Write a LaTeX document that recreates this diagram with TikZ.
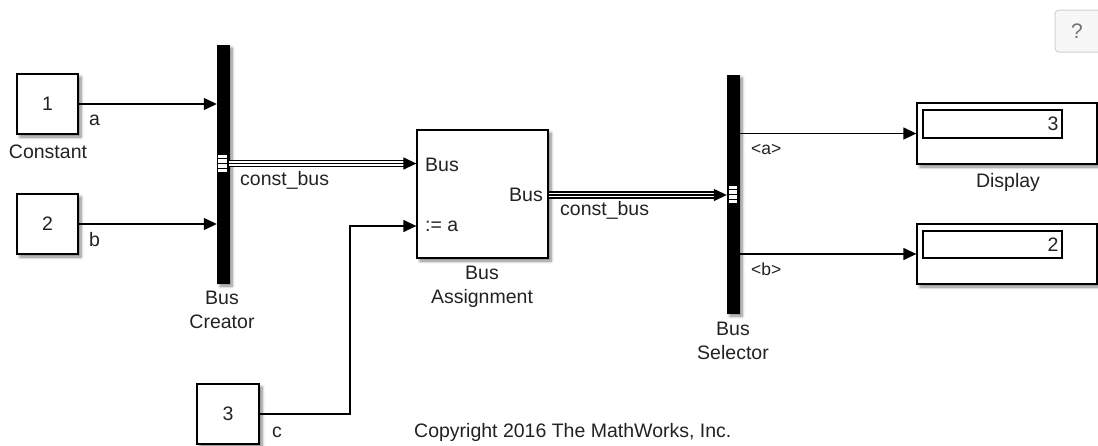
\documentclass[tikz,border=0pt]{standalone}
\usepackage{fontspec}
\setmainfont{Liberation Sans}
\usetikzlibrary{arrows.meta,shadows.blur,calc}
\definecolor{txt}{HTML}{222222}
\begin{document}
\begin{tikzpicture}[x=1pt,y=-1pt,
  font=\fontsize{19.5}{24}\selectfont,
  shd/.style={blur shadow={shadow xshift=3pt,shadow yshift=-3pt,shadow blur steps=6,shadow blur radius=3pt,shadow opacity=50}},
  blk/.style={draw=black,line width=1.3pt,fill=white,shd,inner sep=0pt,text=txt},
  bar/.style={fill=black,draw=black,inner sep=0pt,minimum width=12pt,minimum height=238pt,shd},
  lbl/.style={inner sep=0pt,text=txt},
  arr/.style={draw,line width=1.3pt,-{Triangle[length=13pt,width=12pt]}},
  busouter/.style={line width=7.5pt,shorten >=10pt},
  businner/.style={line width=4.5pt,white,shorten >=10pt},
]
\useasboundingbox (0,0) rectangle (1098,445);

% help button
\node[draw=black!18,line width=1pt,fill=black!3,rounded corners=4pt,minimum width=50pt,minimum height=42pt,inner sep=0pt] (help) at (1080,31) {};
\node[lbl,text=black!55,font=\fontsize{21}{24}\selectfont] (helpq) at (1077,31) {?};

% blocks
\node[blk,minimum width=61pt,minimum height=60pt] (c1) at (47.5,104) {1};
\node[blk,minimum width=61pt,minimum height=60pt] (c2) at (47.5,224) {2};
\node[blk,minimum width=62pt,minimum height=60pt] (c3) at (228,414) {3};
\node[bar] (bc) at (223,164) {};
\node[blk,minimum width=131pt,minimum height=128pt] (ba) at (482.5,194) {};
\node[bar] (bs) at (733,194) {};
\node[blk,minimum width=180pt,minimum height=61pt] (d1) at (1007,133.5) {};
\node[blk,minimum width=180pt,minimum height=60pt] (d2) at (1007,254) {};
\node[draw=black,line width=1.2pt,minimum width=139pt,minimum height=28pt,inner sep=0pt] (d1in) at (992.5,124) {};
\node[draw=black,line width=1.2pt,minimum width=139pt,minimum height=27pt,inner sep=0pt] (d2in) at (992.5,244.5) {};
\node[lbl,anchor=east] (d1v) at ($(d1in.east)+(-4,0)$) {3};
\node[lbl,anchor=east] (d2v) at ($(d2in.east)+(-4,0)$) {2};

% port markers on bars
\node[fill=white,inner sep=0pt,minimum width=9pt,minimum height=17pt] (pm1) at (222.5,163.5) {};
\draw[line width=1.2pt] (pm1.west |- 0,158.5) -- (pm1.east |- 0,158.5) (pm1.west |- 0,163.5) -- (pm1.east |- 0,163.5) (pm1.west |- 0,168.5) -- (pm1.east |- 0,168.5);
\node[fill=white,inner sep=0pt,minimum width=8pt,minimum height=17pt] (pm2) at (733,194.5) {};
\draw[line width=1.2pt] (pm2.west |- 0,189.5) -- (pm2.east |- 0,189.5) (pm2.west |- 0,194.5) -- (pm2.east |- 0,194.5) (pm2.west |- 0,199.5) -- (pm2.east |- 0,199.5);

% coordinates of ports
\coordinate (bc-out) at (bc.east |- pm1);
\coordinate (ba-in1) at (ba.west |- pm1);
\coordinate (ba-in2) at ($(ba.west)+(0,32)$);
\coordinate (ba-out) at ($(ba.east)+(0,1)$);
\coordinate (bs-in) at (bs.west |- ba-out);
\coordinate (bend) at (350,0);

% connectors
\draw[arr] (c1.east) -- (c1.east -| bc.west);
\draw[arr] (c2.east) -- (c2.east -| bc.west);
\draw[arr] (c3.east) -- (c3.east -| bend) -- (ba-in2 -| bend) -- (ba-in2);
\draw[busouter] (bc-out) -- (ba-in1);
\draw[businner] (bc-out) -- (ba-in1);
\draw[arr] (bc-out) -- (ba-in1);
\draw[busouter] (ba-out) -- (bs-in);
\draw[businner] (ba-out) -- (bs-in);
\draw[arr] (ba-out) -- (bs-in);
\draw[arr] (bs.east |- d1.west) -- (d1.west);
\draw[arr] (bs.east |- d2.west) -- (d2.west);

% labels
\node[lbl,anchor=west] (la) at (89,120) {a};
\node[lbl,anchor=west] (lb) at (89,240) {b};
\node[lbl,anchor=west] (lc) at (272,432) {c};
\node[lbl] (lconst) at (48,152) {Constant};
\node[lbl,align=center] (lbc) at (222,310) {Bus\\Creator};
\node[lbl,anchor=west] (lbus1) at (240,180) {const\_bus};
\node[lbl,anchor=west] (lbus2) at (560,210) {const\_bus};
\node[lbl,anchor=west] (pin1) at (425,165) {Bus};
\node[lbl,anchor=east] (pout) at (543,195) {Bus};
\node[lbl,anchor=west] (pin2) at (425,226) {:= a};
\node[lbl,align=center] (lba) at (482,287) {Bus\\Assignment};
\node[lbl,align=center] (lbs) at (733,341) {Bus\\Selector};
\node[lbl,anchor=west,font=\fontsize{17.5}{20}\selectfont] (lsa) at (751,149) {<a>};
\node[lbl,anchor=west,font=\fontsize{17.5}{20}\selectfont] (lsb) at (751,269) {<b>};
\node[lbl] (ldisp) at (1008,182) {Display};
\node[lbl,anchor=west] (copy) at (414,432) {Copyright 2016 The MathWorks, Inc.};
\end{tikzpicture}
\end{document}
